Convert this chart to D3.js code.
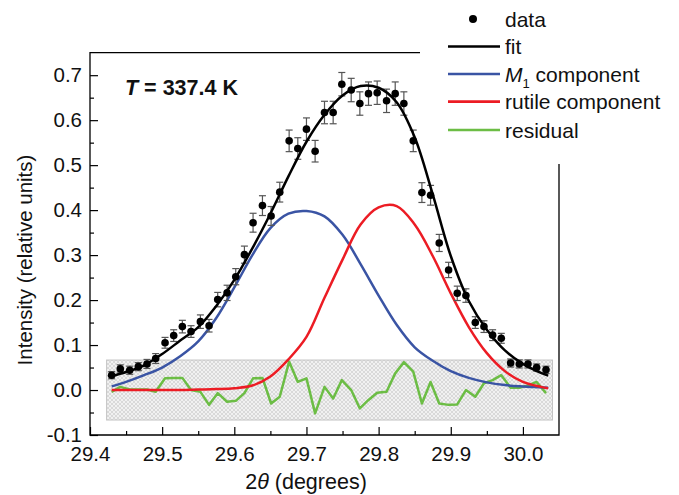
<!DOCTYPE html>
<html>
<head>
<meta charset="utf-8">
<script src="https://cdn.jsdelivr.net/npm/d3@7"></script>
<style>
  html, body { margin: 0; padding: 0; background: #fff; }
  svg { display: block; font-family: "Liberation Sans", Arial, sans-serif; }
</style>
</head>
<body>
<svg id="chart" width="679" height="495"></svg>
<script>
// ---------- data ----------
const dataTheta = [29.430, 29.442, 29.455, 29.467, 29.479, 29.491, 29.504, 29.516, 29.528, 29.540,
  29.553, 29.565, 29.577, 29.590, 29.602, 29.614, 29.626, 29.639, 29.651, 29.663,
  29.676, 29.688, 29.700, 29.712, 29.725, 29.737, 29.749, 29.762, 29.774, 29.786,
  29.798, 29.811, 29.823, 29.835, 29.848, 29.860, 29.872, 29.884, 29.897, 29.909,
  29.921, 29.934, 29.946, 29.958, 29.970, 29.983, 29.995, 30.007, 30.019, 30.032];
const dataIntensity = [0.033, 0.047, 0.044, 0.052, 0.058, 0.070, 0.105, 0.121, 0.141, 0.130,
  0.152, 0.143, 0.201, 0.216, 0.252, 0.301, 0.372, 0.410, 0.387, 0.440,
  0.554, 0.537, 0.580, 0.531, 0.617, 0.617, 0.680, 0.667, 0.637, 0.659,
  0.661, 0.643, 0.659, 0.637, 0.554, 0.439, 0.433, 0.327, 0.267, 0.215,
  0.210, 0.150, 0.141, 0.122, 0.115, 0.060, 0.058, 0.058, 0.050, 0.045];
const dataError = [0.008, 0.009, 0.009, 0.009, 0.010, 0.011, 0.012, 0.013, 0.014, 0.013,
  0.015, 0.014, 0.016, 0.017, 0.018, 0.019, 0.021, 0.022, 0.021, 0.022,
  0.024, 0.024, 0.025, 0.024, 0.025, 0.025, 0.026, 0.026, 0.026, 0.026,
  0.026, 0.026, 0.026, 0.026, 0.024, 0.022, 0.022, 0.019, 0.017, 0.016,
  0.015, 0.013, 0.013, 0.012, 0.011, 0.009, 0.009, 0.009, 0.008, 0.008];
const residual = [-0.004, 0.007, 0.001, 0.001, 0.001, -0.004, 0.026, 0.027, 0.027, 0.000,
  -0.004, -0.033, -0.007, -0.026, -0.024, -0.007, 0.026, 0.027, -0.030, -0.015,
  0.063, 0.018, 0.026, -0.052, 0.007, -0.019, 0.022, 0.000, -0.041, -0.022,
  -0.006, -0.004, 0.037, 0.062, 0.041, -0.030, 0.018, -0.030, -0.033, -0.032,
  0.000, -0.015, 0.015, 0.022, 0.033, 0.005, 0.005, 0.010, 0.018, -0.007];

const curveTheta = [29.430, 29.450, 29.475, 29.500, 29.525, 29.550, 29.575, 29.600, 29.625, 29.650,
  29.675, 29.700, 29.725, 29.750, 29.775, 29.800, 29.825, 29.850, 29.875, 29.900,
  29.925, 29.950, 29.975, 30.000, 30.025, 30.035];
const fitCurve = [0.031, 0.040, 0.055, 0.080, 0.110, 0.140, 0.187, 0.245, 0.315, 0.392,
  0.475, 0.552, 0.612, 0.655, 0.676, 0.672, 0.640, 0.562, 0.435, 0.298,
  0.198, 0.134, 0.088, 0.058, 0.038, 0.032];
const m1Curve = [0.008, 0.018, 0.033, 0.050, 0.075, 0.108, 0.160, 0.228, 0.300, 0.360,
  0.392, 0.398, 0.386, 0.345, 0.280, 0.210, 0.145, 0.095, 0.065, 0.042,
  0.027, 0.017, 0.011, 0.008, 0.006, 0.005];
const rutileCurve = [0.000, 0.000, 0.000, 0.000, 0.000, 0.001, 0.002, 0.004, 0.010, 0.030,
  0.068, 0.118, 0.205, 0.290, 0.368, 0.406, 0.409, 0.368, 0.298, 0.215,
  0.140, 0.082, 0.042, 0.018, 0.007, 0.004];

const residualBand = [29.423, 30.041, -0.0667, 0.0667]; // x0, x1, y0, y1

const xTicks = [29.4, 29.5, 29.6, 29.7, 29.8, 29.9, 30.0];
const xTickLabels = ["29.4", "29.5", "29.6", "29.7", "29.8", "29.9", "30.0"];
const xMinorTicks = [29.45, 29.55, 29.65, 29.75, 29.85, 29.95];
const yTicks = [-0.1, 0.0, 0.1, 0.2, 0.3, 0.4, 0.5, 0.6, 0.7];
const yTickLabels = ["-0.1", "0.0", "0.1", "0.2", "0.3", "0.4", "0.5", "0.6", "0.7"];
const yMinorTicks = [-0.05, 0.05, 0.15, 0.25, 0.35, 0.45, 0.55, 0.65];

const legendLabels = ["data", "fit", "M1 component", "rutile component", "residual"];
const colors = { data: "#000", fit: "#000", m1: "#3a54a4", rutile: "#ec1c24", residual: "#6cbd45" };

// ---------- layout ----------
const svg = d3.select("#chart");
const mLeft = 90, mRight = 559, mTop = 52.7, mBottom = 435;
const frameTopEnd = 420, frameRightStart = 164;
const x = d3.scaleLinear().domain([29.4, 30.05]).range([mLeft, mRight]);
const y = d3.scaleLinear().domain([-0.1, 0.75]).range([mBottom, mTop]);

// hatch pattern
const defs = svg.append("defs");
const pat = defs.append("pattern").attr("id", "hatch").attr("patternUnits", "userSpaceOnUse")
  .attr("width", 4).attr("height", 4);
pat.append("rect").attr("width", 4).attr("height", 4).attr("fill", "#f1f1f1");
pat.append("path").attr("d", "M0,0 L4,4 M4,0 L0,4").attr("stroke", "#cfcfcf").attr("stroke-width", 0.7);

svg.append("rect")
  .attr("x", x(residualBand[0])).attr("y", y(residualBand[3]))
  .attr("width", x(residualBand[1]) - x(residualBand[0]))
  .attr("height", y(residualBand[2]) - y(residualBand[3]))
  .attr("fill", "url(#hatch)").attr("stroke", "#c4c4c4").attr("stroke-width", 1);

// axes
const fmtX = d => xTickLabels[xTicks.findIndex(t => Math.abs(t - d) < 1e-9)];
const fmtY = d => yTickLabels[yTicks.findIndex(t => Math.abs(t - d) < 1e-9)];

const xAxis = svg.append("g").attr("transform", `translate(0,${mBottom})`)
  .call(d3.axisBottom(x).tickValues(xTicks).tickFormat(fmtX).tickSize(-8).tickPadding(11));
const xAxisMinor = svg.append("g").attr("transform", `translate(0,${mBottom})`)
  .call(d3.axisBottom(x).tickValues(xMinorTicks).tickFormat("").tickSize(-4));
const yAxis = svg.append("g").attr("transform", `translate(${mLeft},0)`)
  .call(d3.axisLeft(y).tickValues(yTicks).tickFormat(fmtY).tickSize(-8).tickPadding(8));
const yAxisMinor = svg.append("g").attr("transform", `translate(${mLeft},0)`)
  .call(d3.axisLeft(y).tickValues(yMinorTicks).tickFormat("").tickSize(-4));
[xAxis, xAxisMinor, yAxis, yAxisMinor].forEach(g => {
  g.select(".domain").remove();
  g.selectAll(".tick line").attr("stroke", "#000").attr("stroke-width", 1.2);
  g.selectAll(".tick text").attr("font-size", 20.5).attr("fill", "#111")
    .attr("font-family", "'Liberation Sans', Arial, sans-serif");
});

// frame (top and right edges partly hidden behind the legend in the original)
svg.append("path")
  .attr("d", `M${frameTopEnd},${mTop} L${mLeft},${mTop} L${mLeft},${mBottom} L${mRight},${mBottom} L${mRight},${frameRightStart}`)
  .attr("fill", "none").attr("stroke", "#000").attr("stroke-width", 1.3);

// curves
const curvePts = arr => curveTheta.map((t, i) => [t, arr[i]]);
const smooth = d3.line().x(d => x(d[0])).y(d => y(d[1])).curve(d3.curveCatmullRom.alpha(0.5));
const straight = d3.line().x(d => x(d[0])).y(d => y(d[1]));

svg.append("path").attr("d", straight(dataTheta.map((t, i) => [t, residual[i]])))
  .attr("fill", "none").attr("stroke", colors.residual).attr("stroke-width", 2.5).attr("stroke-linejoin", "round");
svg.append("path").attr("d", smooth(curvePts(m1Curve)))
  .attr("fill", "none").attr("stroke", colors.m1).attr("stroke-width", 2.5);
svg.append("path").attr("d", smooth(curvePts(rutileCurve)))
  .attr("fill", "none").attr("stroke", colors.rutile).attr("stroke-width", 2.5);

// error bars + points
const eb = svg.append("g").attr("stroke", "#555").attr("stroke-width", 1.2);
dataTheta.forEach((t, i) => {
  const cx = x(t), y1 = y(dataIntensity[i] + dataError[i]), y0 = y(dataIntensity[i] - dataError[i]);
  eb.append("line").attr("x1", cx).attr("x2", cx).attr("y1", y1).attr("y2", y0);
  eb.append("line").attr("x1", cx - 3.5).attr("x2", cx + 3.5).attr("y1", y1).attr("y2", y1);
  eb.append("line").attr("x1", cx - 3.5).attr("x2", cx + 3.5).attr("y1", y0).attr("y2", y0);
});
svg.append("path").attr("d", smooth(curvePts(fitCurve)))
  .attr("fill", "none").attr("stroke", colors.fit).attr("stroke-width", 2.5);
svg.append("g").selectAll("circle").data(dataTheta).join("circle")
  .attr("cx", d => x(d)).attr("cy", (d, i) => y(dataIntensity[i])).attr("r", 3.8).attr("fill", "#000");

// annotation
const ann = svg.append("text").attr("x", 125).attr("y", 95).attr("font-size", 21.5).attr("font-weight", "bold").attr("fill", "#111");
ann.append("tspan").attr("font-style", "italic").text("T");
ann.append("tspan").text(" = 337.4 K");

// legend
const legY = [19, 46.5, 74, 101.7, 130];
const legKeys = ["data", "fit", "m1", "rutile", "residual"];
const lg = svg.append("g");
legKeys.forEach((k, i) => {
  if (k === "data") {
    lg.append("circle").attr("cx", 473).attr("cy", legY[i]).attr("r", 4).attr("fill", "#000");
  } else {
    lg.append("line").attr("x1", 448).attr("x2", 500).attr("y1", legY[i]).attr("y2", legY[i])
      .attr("stroke", colors[k]).attr("stroke-width", 2.7);
  }
  const t = lg.append("text").attr("x", 505).attr("y", legY[i] + 7.5).attr("font-size", 21).attr("fill", "#111");
  if (k === "m1") {
    t.append("tspan").attr("font-style", "italic").text("M");
    t.append("tspan").attr("font-size", 13).attr("dy", 6).text("1");
    t.append("tspan").attr("dy", -6).text(" component");
  } else {
    t.text(legendLabels[i]);
  }
});

// axis titles
const xt = svg.append("text").attr("x", 306).attr("y", 489).attr("text-anchor", "middle").attr("font-size", 21.5).attr("fill", "#111");
xt.append("tspan").text("2");
xt.append("tspan").attr("font-style", "italic").text("θ");
xt.append("tspan").text(" (degrees)");
svg.append("text").attr("transform", "translate(32,260) rotate(-90)").attr("text-anchor", "middle")
  .attr("font-size", 20.5).attr("fill", "#111").text("Intensity (relative units)");
</script>
</body>
</html>
